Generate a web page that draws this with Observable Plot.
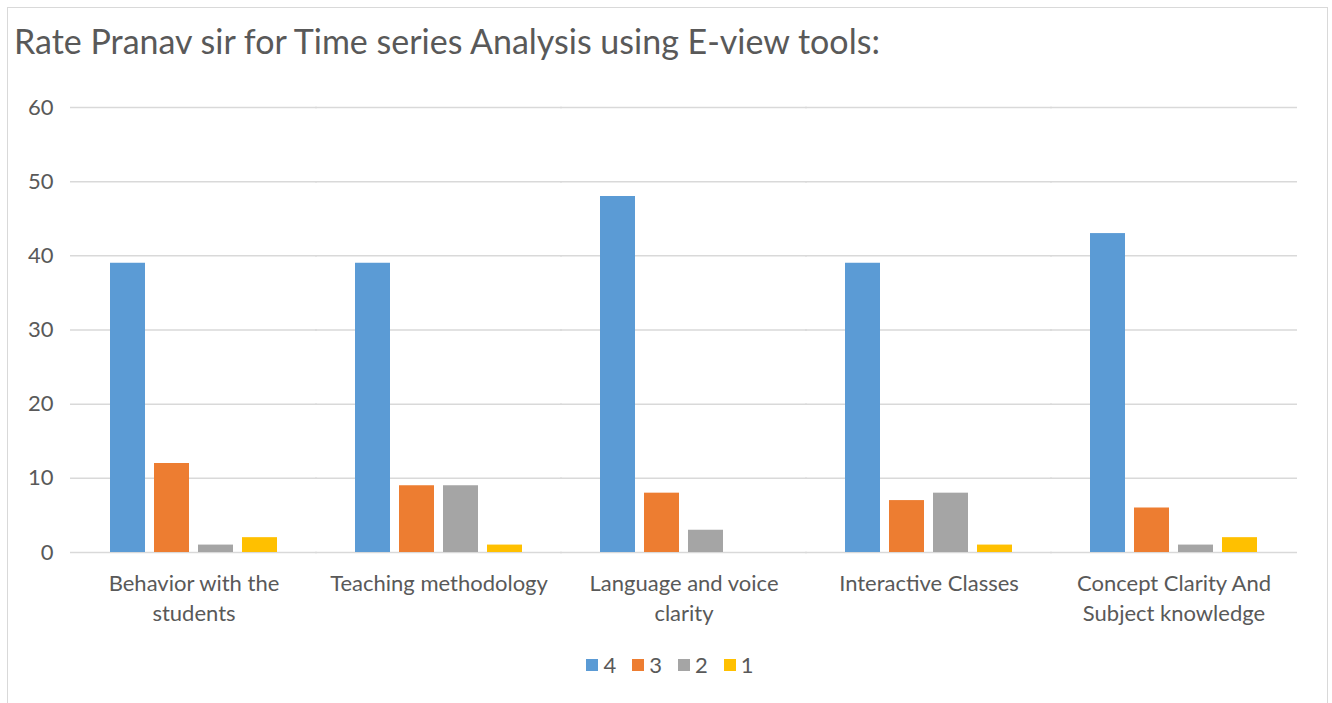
<!DOCTYPE html>
<html>
<head>
<meta charset="utf-8">
<script src="https://cdn.jsdelivr.net/npm/d3@7"></script>
<script src="https://cdn.jsdelivr.net/npm/@observablehq/plot@0.6"></script>
<style>
  html, body { margin: 0; padding: 0; background: #fff; }
  body { width: 1332px; height: 703px; overflow: hidden; position: relative; font-family: Lato, "Open Sans", sans-serif; }
  #frame { position: absolute; left: 7px; top: 7px; width: 1321px; height: 720px; border: 1px solid #d9d9d9; box-sizing: border-box; }
  #title { position: absolute; left: 14px; top: 20px; font-size: 34px; color: #595959; white-space: nowrap; }
  #chart { position: absolute; left: 0; top: 70px; }
  #legend { position: absolute; left: 0; top: 651px; width: 1332px; display: flex; justify-content: center; gap: 16px; font-size: 22px; color: #595959; padding-left: 8px; box-sizing: border-box; }
  .item { display: flex; align-items: center; gap: 5px; line-height: 28px; }
  .sw { width: 12px; height: 12px; display: inline-block; }
</style>
</head>
<body>
<div id="frame"></div>
<div id="title">Rate Pranav sir for Time series Analysis using E-view tools:</div>
<div id="chart"></div>
<div id="legend"></div>
<script>
const categories = ["Behavior with the students", "Teaching methodology", "Language and voice clarity", "Interactive Classes", "Concept Clarity And Subject knowledge"];
const categoryLabels = ["Behavior with the\nstudents", "Teaching methodology", "Language and voice\nclarity", "Interactive Classes", "Concept Clarity And\nSubject knowledge"];
const ratings = ["4", "3", "2", "1"];
const colors = ["#5b9bd5", "#ed7d31", "#a5a5a5", "#ffc000"];
const values4 = [39, 39, 48, 39, 43];
const values3 = [12, 9, 8, 7, 6];
const values2 = [1, 9, 3, 8, 1];
const values1 = [2, 1, 0, 1, 2];
const yTicks = [0, 10, 20, 30, 40, 50, 60];

const series = [values4, values3, values2, values1];
const data = [];
categories.forEach((c, i) => {
  ratings.forEach((r, j) => data.push({category: c, rating: r, value: series[j][i]}));
});

const labelOf = new Map(categories.map((c, i) => [c, categoryLabels[i]]));

const chart = Plot.plot({
  width: 1332,
  height: 570,
  marginLeft: 70,
  marginRight: 34,
  marginTop: 37,
  marginBottom: 88,
  style: {fontFamily: "Lato, 'Open Sans', sans-serif", color: "#595959", background: "transparent"},
  fx: {domain: categories, paddingInner: 0.31, paddingOuter: 0.155, label: null, axis: null},
  x: {domain: ratings, paddingInner: 0.2, paddingOuter: 0, axis: null},
  y: {domain: [0, 60], label: null},
  color: {domain: ratings, range: colors},
  marks: [
    Plot.ruleY(yTicks, {stroke: "#d9d9d9", strokeWidth: 1.5, insetLeft: -39, insetRight: -39}),
    Plot.barY(data, {fx: "category", x: "rating", y: "value", fill: "rating"}),
    Plot.axisY({ticks: yTicks, tickSize: 0, tickPadding: 56, fontSize: 22, fill: "#595959", label: null}),
    Plot.axisFx({anchor: "bottom", tickSize: 0, tickPadding: 17, fontSize: 22, fill: "#595959", lineHeight: 1.36, label: null, tickFormat: d => labelOf.get(d)})
  ]
});
document.getElementById("chart").appendChild(chart);

const legend = document.getElementById("legend");
ratings.forEach((r, i) => {
  const it = document.createElement("div");
  it.className = "item";
  const sw = document.createElement("span");
  sw.className = "sw";
  sw.style.background = colors[i];
  const t = document.createElement("span");
  t.textContent = r;
  it.appendChild(sw); it.appendChild(t);
  legend.appendChild(it);
});
</script>
</body>
</html>
